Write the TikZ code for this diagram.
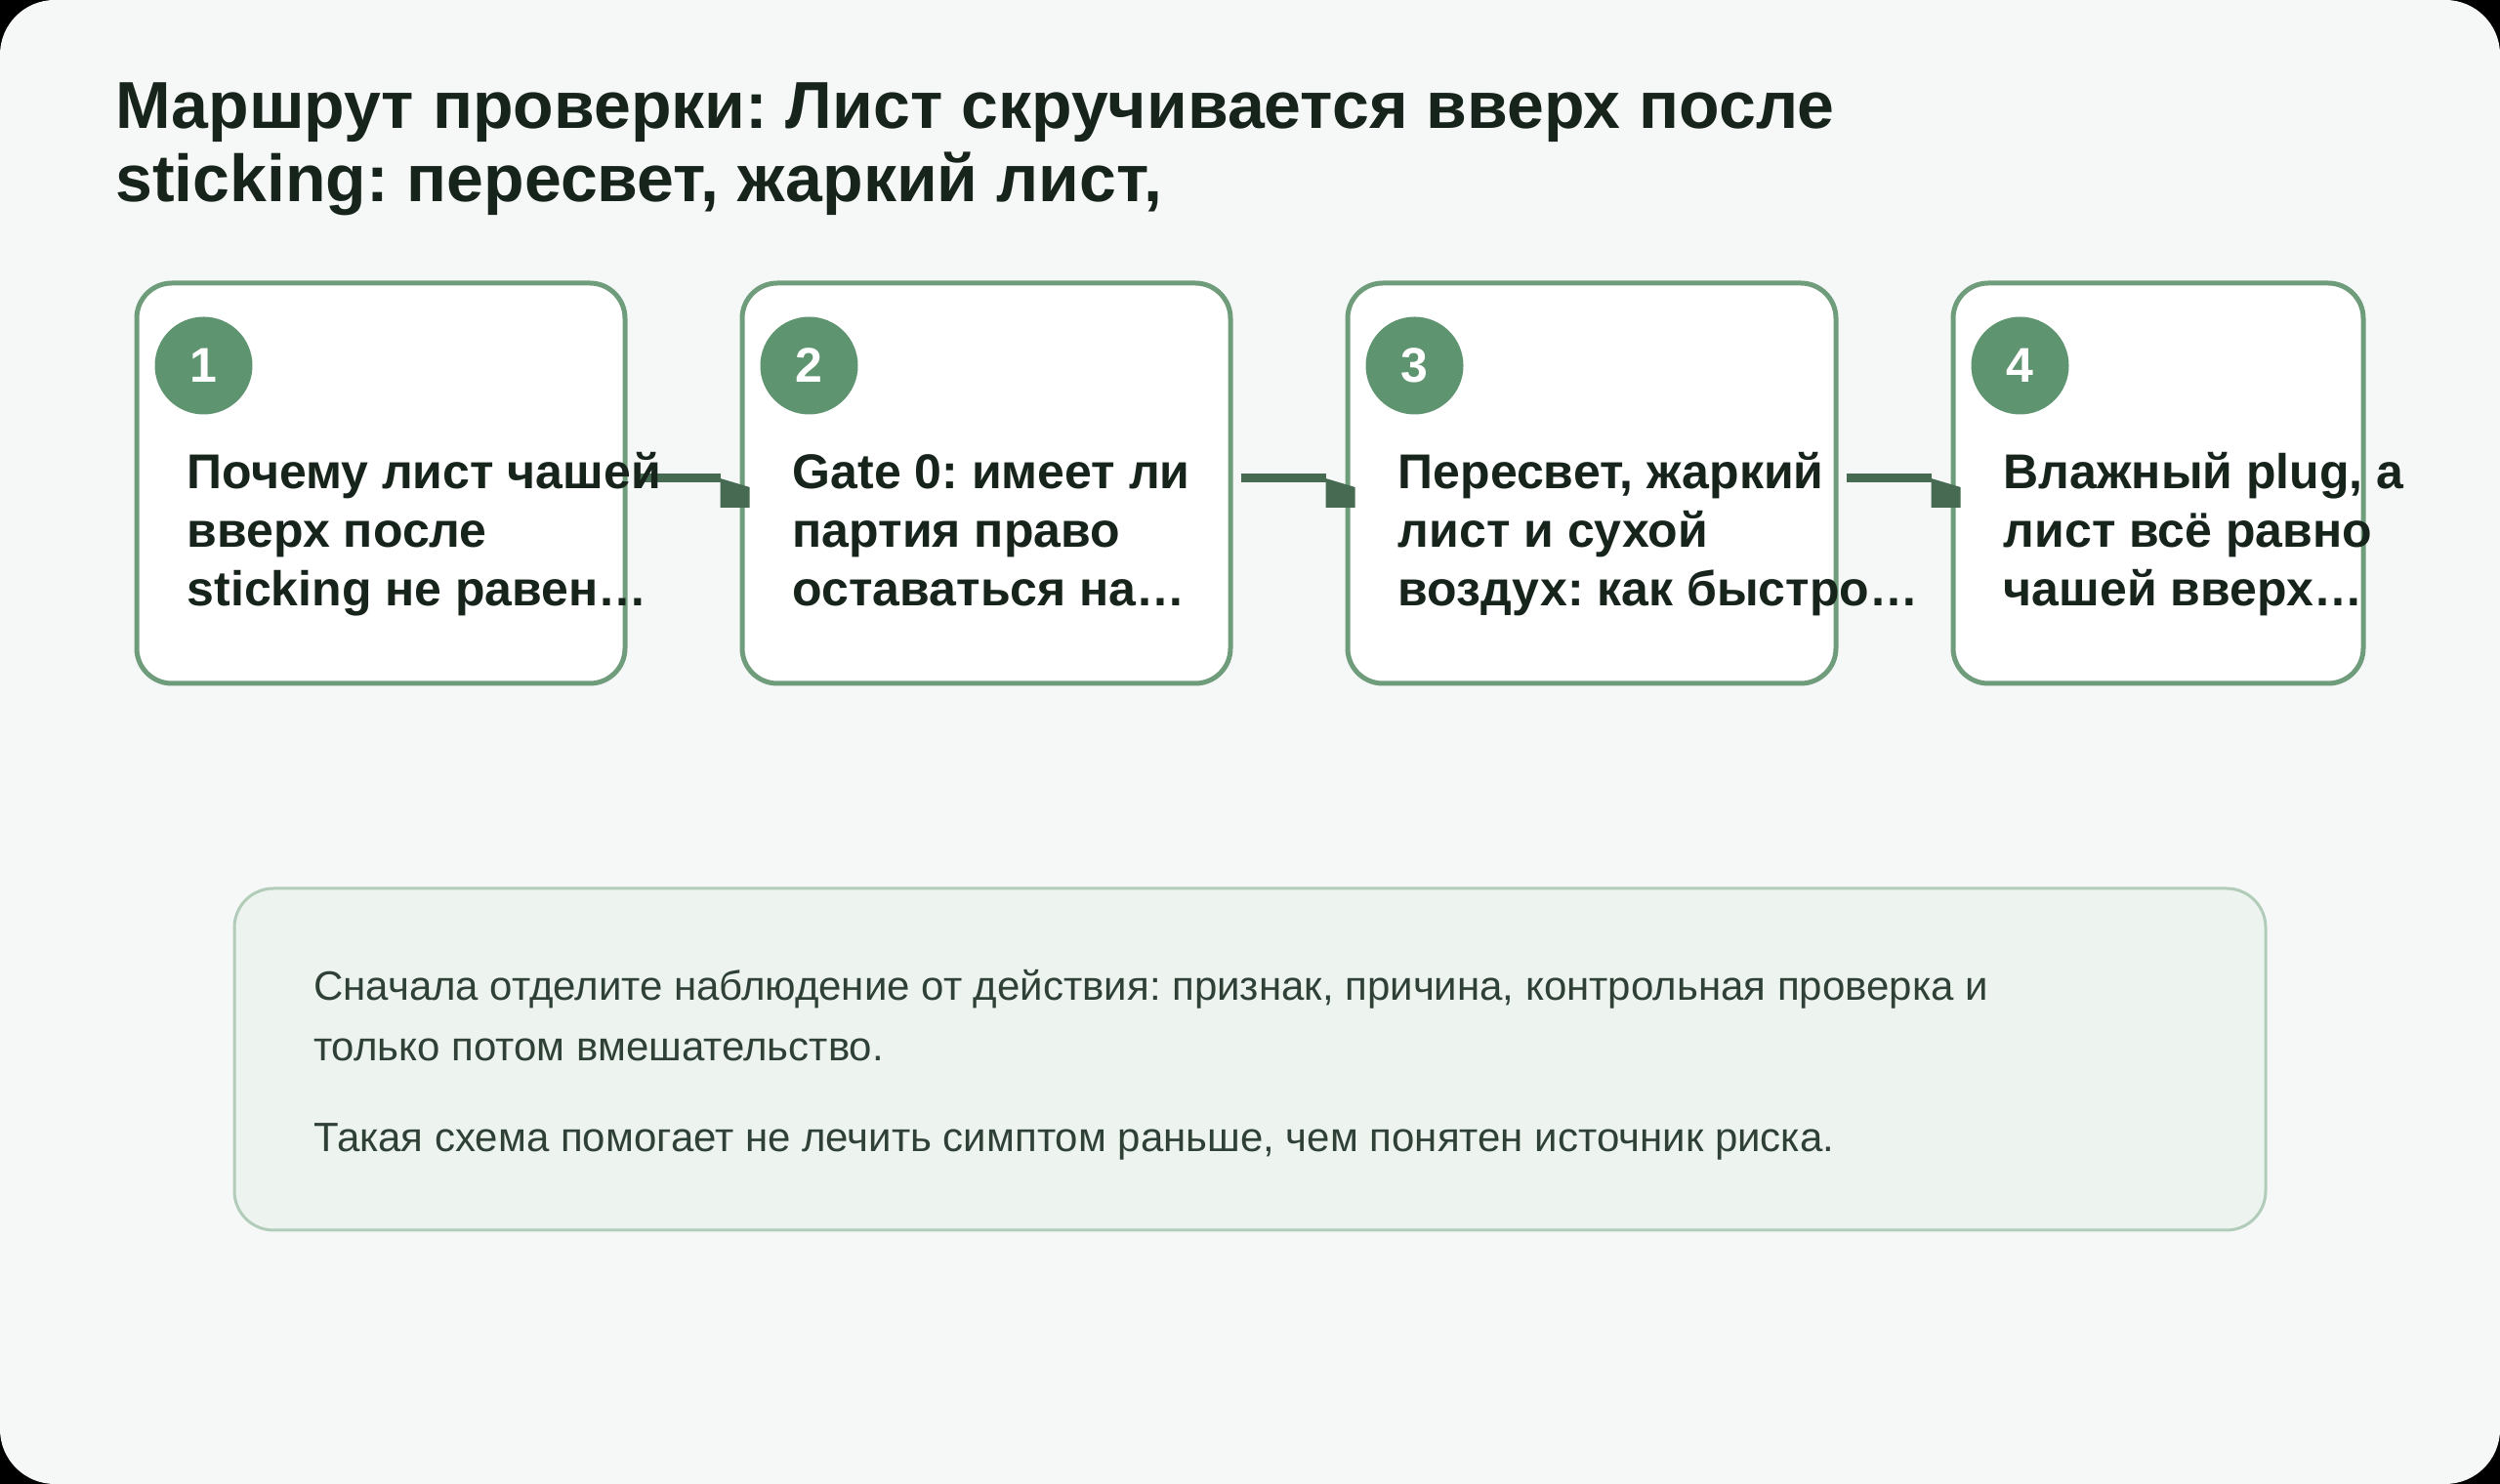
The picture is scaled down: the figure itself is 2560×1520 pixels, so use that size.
\documentclass[tikz,border=0pt]{standalone}
\usepackage{fontspec}
\setmainfont{Liberation Sans}
\frenchspacing
\usetikzlibrary{positioning}
\definecolor{pagebg}{HTML}{F6F8F7}
\definecolor{inkdark}{HTML}{17241C}
\definecolor{boxline}{HTML}{6F9D7B}
\definecolor{dotfill}{HTML}{5F9470}
\definecolor{flowgreen}{HTML}{466B52}
\definecolor{notefill}{HTML}{EDF4EF}
\definecolor{noteline}{HTML}{B2CCBA}
\definecolor{noteink}{HTML}{2F4137}
\begin{document}
\begin{tikzpicture}[x=1pt,y=1pt,
  stepbox/.style={draw=boxline,line width=5pt,fill=white,rounded corners=36pt,
    minimum width=500pt,minimum height=410pt,inner sep=0pt},
  numdot/.style={circle,fill=dotfill,minimum size=100pt,inner sep=0pt,text=white,
    font=\fontsize{50}{50}\selectfont\bfseries},
  steptext/.style={anchor=base west,align=left,inner sep=0pt,text=inkdark,
    font=\fontsize{50}{60}\selectfont\bfseries},
  notetext/.style={anchor=base west,align=left,inner sep=0pt,text=noteink,
    font=\fontsize{42}{62}\selectfont},
  flowline/.style={draw=flowgreen,line width=9pt},
  flowhead/.style={fill=flowgreen}]
 \fill[black] (0,0) rectangle (2560,1520);
 \fill[pagebg,rounded corners=56pt] (0,0) rectangle (2560,1520);
 \useasboundingbox (0,0) rectangle (2560,1520);
 % title, anchored on the baseline of its last line
 \node[anchor=base west,align=left,inner sep=0pt,text=inkdark,
   font=\fontsize{68}{75}\selectfont\bfseries] (title) at (118,1313)
   {Маршрут проверки: Лист скручивается вверх после\\sticking: пересвет, жаркий лист,};
 \node[stepbox] (b1) at (390,1025) {};
 \node[stepbox] (b2) at (1010,1025) {};
 \node[stepbox] (b3) at (1630,1025) {};
 \node[stepbox,minimum width=420pt] (b4) at (2210,1025) {};
 \node[numdot] (n1) at ([xshift=71pt,yshift=-87pt]b1.north west) {1};
 \node[numdot] (n2) at ([xshift=71pt,yshift=-87pt]b2.north west) {2};
 \node[numdot] (n3) at ([xshift=71pt,yshift=-87pt]b3.north west) {3};
 \node[numdot] (n4) at ([xshift=71pt,yshift=-87pt]b4.north west) {4};
 \coordinate (h2) at ([xshift=10pt,yshift=5.5pt]b2.west);
 \coordinate (h3) at ([xshift=10pt,yshift=5.5pt]b3.west);
 \coordinate (h4) at ([xshift=10pt,yshift=5.5pt]b4.west);
 \draw[flowline] ([xshift=8pt,yshift=5.5pt]b1.east) -- ([xshift=-30pt]h2);
 \fill[flowhead] ([xshift=-30pt,yshift=-0.5pt]h2) -- ([yshift=-9.5pt]h2) -- ([yshift=-30.5pt]h2) -- ([xshift=-30pt,yshift=-30.5pt]h2) -- cycle;
 \draw[flowline] ([xshift=8pt,yshift=5.5pt]b2.east) -- ([xshift=-30pt]h3);
 \fill[flowhead] ([xshift=-30pt,yshift=-0.5pt]h3) -- ([yshift=-9.5pt]h3) -- ([yshift=-30.5pt]h3) -- ([xshift=-30pt,yshift=-30.5pt]h3) -- cycle;
 \draw[flowline] ([xshift=8pt,yshift=5.5pt]b3.east) -- ([xshift=-30pt]h4);
 \fill[flowhead] ([xshift=-30pt,yshift=-0.5pt]h4) -- ([yshift=-9.5pt]h4) -- ([yshift=-30.5pt]h4) -- ([xshift=-30pt,yshift=-30.5pt]h4) -- cycle;
 \node[steptext] (t1) at ([xshift=54pt,yshift=-333pt]b1.north west) {Почему лист чашей\\вверх после\\sticking не равен…};
 \node[steptext] (t2) at ([xshift=54pt,yshift=-333pt]b2.north west) {Gate 0: имеет ли\\партия право\\оставаться на…};
 \node[steptext] (t3) at ([xshift=54pt,yshift=-333pt]b3.north west) {Пересвет, жаркий\\лист и сухой\\воздух: как быстро…};
 \node[steptext] (t4) at ([xshift=54pt,yshift=-333pt]b4.north west) {Влажный plug, а\\лист всё равно\\чашей вверх…};
 \draw[noteline,fill=notefill,line width=3pt,rounded corners=40pt] (240,260) rectangle (2320,610);
 \node[notetext] (p1) at (321,433) {Сначала отделите наблюдение от действия: признак, причина, контрольная проверка и\\только потом вмешательство.};
 \node[notetext] (p2) at (321,340) {Такая схема помогает не лечить симптом раньше, чем понятен источник риска.};
\end{tikzpicture}
\end{document}
